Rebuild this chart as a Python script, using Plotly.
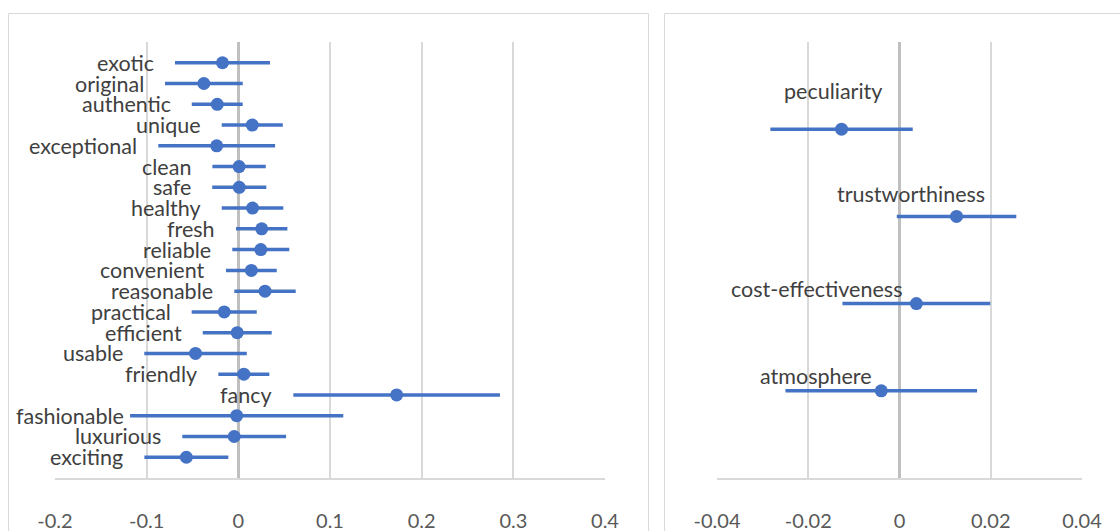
import plotly.graph_objects as go

# Left panel: attribute estimates with confidence half-widths
attributes = ["exotic", "original", "authentic", "unique", "exceptional", "clean", "safe",
              "healthy", "fresh", "reliable", "convenient", "reasonable", "practical",
              "efficient", "usable", "friendly", "fancy", "fashionable", "luxurious", "exciting"]
attr_mean = [-0.0173, -0.0376, -0.0230, 0.0152, -0.0236, 0.0008, 0.0010,
             0.0155, 0.0255, 0.0245, 0.0142, 0.0291, -0.0154,
             -0.0012, -0.0467, 0.0060, 0.1727, -0.0018, -0.0045, -0.0567]
attr_ci = [0.0518, 0.0424, 0.0278, 0.0333, 0.0637, 0.0291, 0.0295,
           0.0336, 0.0280, 0.0311, 0.0277, 0.0335, 0.0355,
           0.0376, 0.0559, 0.0278, 0.1127, 0.1163, 0.0566, 0.0458]

# Right panel: dimension estimates
dimensions = ["peculiarity", "trustworthiness", "cost-effectiveness", "atmosphere"]
dim_mean = [-0.0127, 0.0125, 0.0037, -0.0040]
dim_ci = [0.0156, 0.0131, 0.0162, 0.0210]

left_ticks = [-0.2, -0.1, 0, 0.1, 0.2, 0.3, 0.4]
left_ticktext = ["-0.2", "-0.1", "0", "0.1", "0.2", "0.3", "0.4"]
right_ticks = [-0.04, -0.02, 0, 0.02, 0.04]
right_ticktext = ["-0.04", "-0.02", "0", "0.02", "0.04"]

# label placement: gap (px) between a label and the left end of its interval,
# tightened where the label would otherwise run past the chart border
default_label_gap = -19
label_gap_override = {"fashionable": -4}
# pixel offsets (dx, dy) of the dimension labels from their markers
dim_label_offsets = [(-9, 38), (-46, 22), (-100, 15), (-65, 15)]

W, H = 1120, 531
BLUE = "#4472C4"
FONT = "Lato"
LABEL_SIZE = 21.5
TICK_SIZE = 20

n_attr = len(attributes)
attr_rows = [n_attr - i for i in range(n_attr)]
n_dim = len(dimensions)
dim_rows = [n_dim - i for i in range(n_dim)]

fig = go.Figure()

fig.add_trace(go.Scatter(
    x=attr_mean, y=attr_rows, mode="markers",
    marker=dict(color=BLUE, size=13),
    error_x=dict(type="data", array=attr_ci, color=BLUE, thickness=3.5, width=0),
    xaxis="x", yaxis="y", showlegend=False, hoverinfo="skip",
))
fig.add_trace(go.Scatter(
    x=dim_mean, y=dim_rows, mode="markers",
    marker=dict(color=BLUE, size=13),
    error_x=dict(type="data", array=dim_ci, color=BLUE, thickness=3.5, width=0),
    xaxis="x2", yaxis="y2", showlegend=False, hoverinfo="skip",
))

annotations = []
for name, m, c, r in zip(attributes, attr_mean, attr_ci, attr_rows):
    annotations.append(dict(
        x=m - c, y=r, xref="x", yref="y", text=name, showarrow=False,
        xanchor="right", yanchor="middle",
        xshift=label_gap_override.get(name, default_label_gap), yshift=0,
        font=dict(family=FONT, size=LABEL_SIZE, color="#404040"),
    ))
for name, m, r, (dx, dy) in zip(dimensions, dim_mean, dim_rows, dim_label_offsets):
    annotations.append(dict(
        x=m, y=r, xref="x2", yref="y2", text=name, showarrow=False,
        xanchor="center", yanchor="middle", xshift=dx, yshift=dy,
        font=dict(family=FONT, size=LABEL_SIZE, color="#404040"),
    ))

# plot areas in pixels
top, bottom = 42, 478
y_dom = [1 - bottom / H, 1 - top / H]

axis_common = dict(
    showgrid=True, gridcolor="#D9D9D9", gridwidth=1.5,
    zeroline=True, zerolinecolor="#BFBFBF", zerolinewidth=2.5,
    showline=True, linecolor="#D9D9D9", linewidth=1.5,
    ticks="", ticklabelstandoff=24, automargin=False,
    tickfont=dict(family=FONT, size=TICK_SIZE, color="#595959"),
    fixedrange=True,
)

fig.update_layout(
    width=W, height=H,
    margin=dict(l=0, r=0, t=0, b=0, autoexpand=False),
    paper_bgcolor="white", plot_bgcolor="white",
    xaxis=dict(domain=[55 / W, 605 / W], range=[-0.2, 0.4],
               tickvals=left_ticks, ticktext=left_ticktext, anchor="y", **axis_common),
    yaxis=dict(domain=y_dom, range=[0, n_attr + 1], visible=False, fixedrange=True),
    xaxis2=dict(domain=[717 / W, 1082 / W], range=[-0.04, 0.04],
                tickvals=right_ticks, ticktext=right_ticktext, anchor="y2", **axis_common),
    yaxis2=dict(domain=y_dom, range=[0, n_dim + 1], visible=False, fixedrange=True),
    annotations=annotations,
    shapes=[
        dict(type="rect", xref="paper", yref="paper",
             x0=8.5 / W, x1=648.5 / W, y0=-0.2, y1=1 - 13.5 / H,
             line=dict(color="#D9D9D9", width=1), layer="below"),
        dict(type="rect", xref="paper", yref="paper",
             x0=664.5 / W, x1=1.2, y0=-0.2, y1=1 - 13.5 / H,
             line=dict(color="#D9D9D9", width=1), layer="below"),
    ],
)

fig.write_html("out.html")
